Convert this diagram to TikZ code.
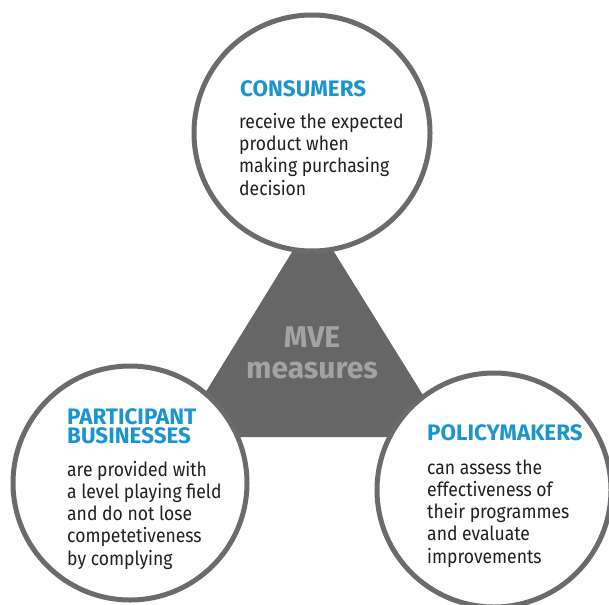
\documentclass[tikz,border=0pt]{standalone}
\usepackage{fontspec}
\newfontfamily\bodyfont{Fira Sans}[FakeStretch=0.9]
\newfontfamily\headfam{Fira Sans}
\definecolor{ringgray}{HTML}{6B6B6E}
\definecolor{trigray}{HTML}{676667}
\definecolor{mvegray}{HTML}{A3A2A4}
\definecolor{headblue}{HTML}{1B95CF}
\definecolor{bodyink}{HTML}{231F20}
\tikzset{
  ring/.style={circle, draw=ringgray, line width=5pt, fill=white, inner sep=0pt, minimum size=#1},
  headtext/.style={anchor=base west, inner sep=0pt, align=left, text=headblue,
    font=\headfam\bfseries\fontsize{22.4}{19}\selectfont},
  bodytext/.style={anchor=base west, inner sep=0pt, align=left, text=bodyink,
    font=\bodyfont\fontsize{19.5}{22.2}\selectfont},
  centertext/.style={anchor=base, inner sep=0pt, align=center, text=mvegray,
    font=\headfam\bfseries\fontsize{30}{31}\selectfont}
}
\begin{document}
\begin{tikzpicture}[x=1pt, y=-1pt]
\useasboundingbox (0,0) rectangle (609,604);
% central triangle
\fill[trigray] (313,218) coordinate (apex) -- (178,437) coordinate (bl) -- (449,437) coordinate (br) -- cycle;
\node[centertext] (mve) at (312,378) {MVE\\measures};
% circles
\node[ring=236pt] (top) at (312,133) {};
\node[ring=234pt] (left) at (130,483) {};
\node[ring=234pt] (right) at (494,490) {};
% texts (anchors at the baseline of the last line)
\node[headtext] (consh) at (240,97) {CONSUMERS};
\node[bodytext] (consb) at (239,195) {receive the expected\\product when\\making purchasing\\decision};
\node[headtext] (parth) at (67,443) {PARTICIPANT\\BUSINESSES};
\node[bodytext] (partb) at (67,565) {are provided with\\a level playing field\\and do not lose\\competetiveness\\by complying};
\node[headtext] (polh) at (427,440) {POLICYMAKERS};
\node[bodytext] (polb) at (427,563) {can assess the\\effectiveness of\\their programmes\\and evaluate\\improvements};
\end{tikzpicture}
\end{document}
